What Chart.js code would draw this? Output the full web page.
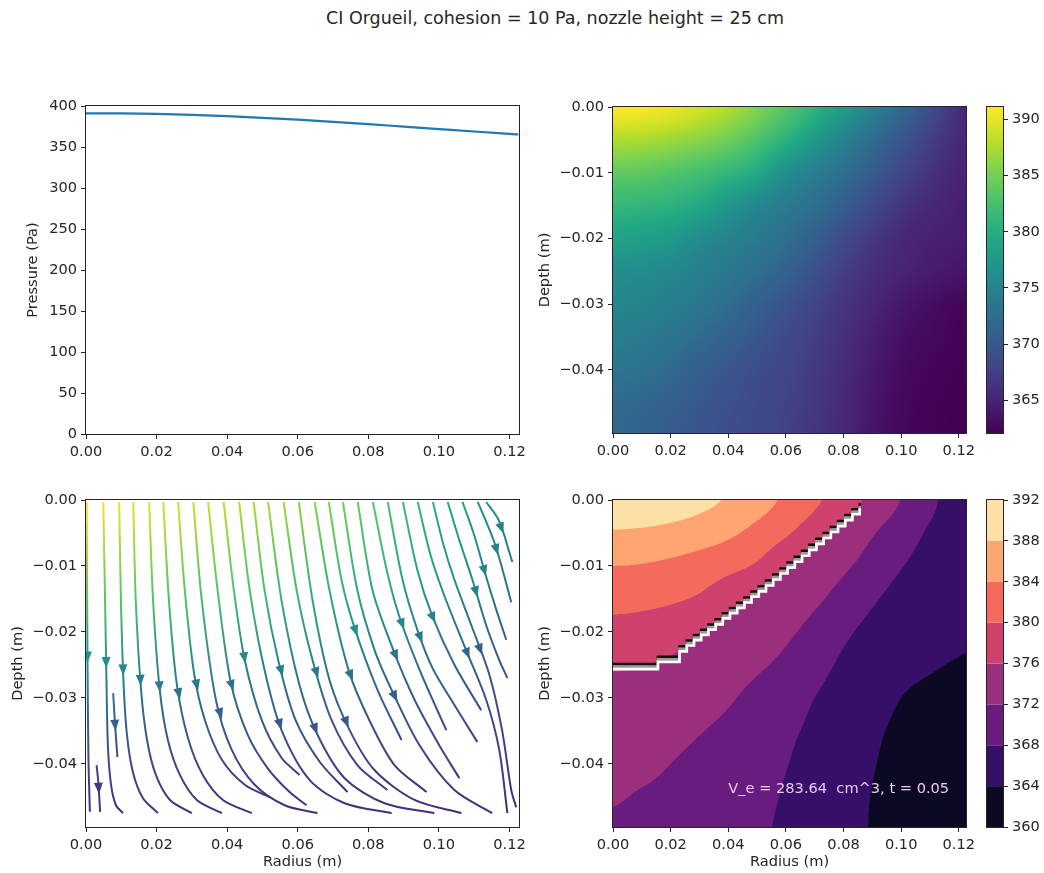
<!DOCTYPE html>
<html>
<head>
<meta charset="utf-8">
<title>CI Orgueil pressure field</title>
<script src="https://cdn.jsdelivr.net/npm/chart.js@4.4.1/dist/chart.umd.min.js"></script>
<style>
  html, body { margin: 0; padding: 0; background: #ffffff; }
  body { position: relative; width: 1044px; height: 873px; overflow: hidden; font-family: 'DejaVu Sans', sans-serif; }
  canvas { position: absolute; }
  #suptitle { position: absolute; left: 0; top: 8px; width: 1110px; text-align: center; font-size: 17.5px; line-height: 20px; color: #262626; white-space: nowrap; }
</style>
</head>
<body>
<div id="suptitle">CI Orgueil, cohesion = 10 Pa, nozzle height = 25 cm</div>
<canvas id="surfaceChart"></canvas>
<canvas id="fieldChart"></canvas>
<canvas id="fieldBar"></canvas>
<canvas id="flowChart"></canvas>
<canvas id="bandChart"></canvas>
<canvas id="bandBar"></canvas>
<script>
// ---------------- data ----------------
// grid columns (radius, m) and rows (depth, m) of the pressure field
const radii = [0, 0.01, 0.02, 0.03, 0.04, 0.05, 0.06, 0.07, 0.08, 0.09, 0.10, 0.11, 0.12, 0.1225];
const depths = [0, -0.005, -0.010, -0.015, -0.020, -0.025, -0.030, -0.035, -0.040, -0.045, -0.0496];
// pressure (Pa), one row per depth; the first row is the surface profile
const pressure = [
  [391.1, 390.9, 390.3, 389.1, 387.6, 385.6, 383.3, 380.7, 377.9, 374.9, 371.9, 368.9, 366.0, 365.3],
  [387.6, 387.4, 386.8, 385.9, 384.7, 382.8, 380.5, 377.7, 374.9, 372.3, 369.9, 367.5, 365.6, 365.2],
  [384.0, 383.8, 383.2, 382.3, 381.1, 379.5, 376.4, 374.4, 372.6, 370.5, 368.2, 366.4, 365.0, 364.8],
  [381.2, 381.0, 380.5, 379.5, 377.4, 375.4, 374.0, 372.6, 370.7, 368.5, 366.6, 365.5, 364.7, 364.6],
  [378.7, 378.4, 377.6, 376.1, 374.9, 373.8, 372.6, 370.9, 368.7, 366.9, 365.5, 364.8, 364.5, 364.4],
  [376.3, 376.1, 375.5, 374.6, 373.6, 372.5, 371.2, 369.3, 367.4, 366.0, 365.0, 364.3, 363.8, 363.7],
  [375.3, 375.0, 374.4, 373.6, 372.4, 371.0, 369.6, 368.0, 366.6, 365.3, 364.0, 363.2, 362.6, 362.5],
  [374.3, 374.0, 373.3, 372.2, 371.1, 369.9, 368.6, 367.4, 366.1, 364.6, 363.4, 362.8, 362.4, 362.3],
  [373.4, 373.0, 372.0, 370.9, 369.9, 368.9, 368.1, 367.0, 365.7, 364.2, 363.0, 362.5, 362.2, 362.2],
  [372.2, 371.7, 371.0, 370.1, 369.3, 368.6, 367.8, 366.8, 365.5, 363.9, 362.8, 362.3, 362.1, 362.1],
  [371.8, 371.3, 370.5, 369.7, 369.0, 368.4, 367.6, 366.6, 365.3, 363.8, 362.7, 362.3, 362.1, 362.1]
];
const radiusTicks = [0, 0.02, 0.04, 0.06, 0.08, 0.10, 0.12];
const depthTicks = [0, -0.01, -0.02, -0.03, -0.04];
const pressureTicks = [0, 50, 100, 150, 200, 250, 300, 350, 400];
const fieldBarTicks = [365, 370, 375, 380, 385, 390];
const bandLevels = [360, 364, 368, 372, 376, 380, 384, 388, 392];

// flow speed (relative, 0..1) used to colour the streamlines
const speedRadii = [0, 0.02, 0.04, 0.06, 0.08, 0.10, 0.12];
const speedDepths = [0, -0.01, -0.02, -0.03, -0.04, -0.05];
const speed = [
  [1.00, 0.95, 0.90, 0.84, 0.76, 0.62, 0.44],
  [0.88, 0.86, 0.82, 0.76, 0.68, 0.56, 0.40],
  [0.60, 0.58, 0.55, 0.52, 0.47, 0.40, 0.30],
  [0.38, 0.37, 0.35, 0.33, 0.30, 0.27, 0.23],
  [0.21, 0.21, 0.20, 0.19, 0.18, 0.17, 0.16],
  [0.11, 0.11, 0.11, 0.11, 0.11, 0.11, 0.11]
];

// streamlines, each a list of [radius, depth] points in flow order
const streamlines = [
  [[0.0002,-0.0003],[0.0004,-0.0228],[0.0007,-0.0394],[0.0010,-0.0455],[0.0011,-0.0473]],
  [[0.0049,-0.0003],[0.0054,-0.0152],[0.0058,-0.0273],[0.0062,-0.0372],[0.0071,-0.0432],[0.0085,-0.0463],[0.0105,-0.0475]],
  [[0.0094,-0.0003],[0.0099,-0.0152],[0.0106,-0.0273],[0.0116,-0.0356],[0.0133,-0.0413],[0.0161,-0.0452],[0.0204,-0.0475]],
  [[0.0134,-0.0003],[0.0141,-0.0152],[0.0156,-0.0288],[0.0173,-0.0364],[0.0198,-0.0417],[0.0238,-0.0455],[0.0300,-0.0475]],
  [[0.0179,-0.0003],[0.0190,-0.0152],[0.0209,-0.0288],[0.0232,-0.0364],[0.0266,-0.0417],[0.0314,-0.0455],[0.0385,-0.0475]],
  [[0.0219,-0.0003],[0.0235,-0.0152],[0.0257,-0.0278],[0.0289,-0.0361],[0.0331,-0.0417],[0.0388,-0.0455],[0.0470,-0.0475]],
  [[0.0261,-0.0003],[0.0280,-0.0137],[0.0306,-0.0262],[0.0337,-0.0334],[0.0385,-0.0394],[0.0450,-0.0432],[0.0521,-0.0451]],
  [[0.0304,-0.0003],[0.0328,-0.0152],[0.0368,-0.0303],[0.0413,-0.0379],[0.0478,-0.0432],[0.0563,-0.0463],[0.0656,-0.0475]],
  [[0.0346,-0.0003],[0.0373,-0.0137],[0.0410,-0.0276],[0.0458,-0.0356],[0.0515,-0.0407],[0.0577,-0.0443],[0.0625,-0.0463]],
  [[0.0390,-0.0003],[0.0419,-0.0137],[0.0450,-0.0243],[0.0498,-0.0334],[0.0554,-0.0391],[0.0605,-0.0417]],
  [[0.0434,-0.0003],[0.0464,-0.0137],[0.0506,-0.0258],[0.0554,-0.0349],[0.0634,-0.0425],[0.0733,-0.0460],[0.0866,-0.0475]],
  [[0.0475,-0.0003],[0.0506,-0.0137],[0.0546,-0.0246],[0.0594,-0.0334],[0.0662,-0.0397],[0.0741,-0.0443]],
  [[0.0516,-0.0003],[0.0554,-0.0152],[0.0605,-0.0281],[0.0656,-0.0356],[0.0733,-0.0422],[0.0846,-0.0460],[0.0987,-0.0475]],
  [[0.0560,-0.0003],[0.0597,-0.0137],[0.0642,-0.0243],[0.0696,-0.0334],[0.0769,-0.0402],[0.0854,-0.0440]],
  [[0.0603,-0.0003],[0.0642,-0.0152],[0.0690,-0.0273],[0.0747,-0.0349],[0.0818,-0.0410],[0.0931,-0.0455],[0.1064,-0.0475]],
  [[0.0648,-0.0003],[0.0690,-0.0137],[0.0744,-0.0258],[0.0803,-0.0334],[0.0874,-0.0402],[0.0965,-0.0443]],
  [[0.0688,-0.0003],[0.0724,-0.0121],[0.0761,-0.0194],[0.0826,-0.0288],[0.0894,-0.0364]],
  [[0.0728,-0.0003],[0.0769,-0.0137],[0.0818,-0.0228],[0.0866,-0.0288],[0.0945,-0.0372],[0.1044,-0.0440],[0.1151,-0.0475]],
  [[0.0770,-0.0003],[0.0812,-0.0137],[0.0869,-0.0225],[0.0931,-0.0303],[0.1001,-0.0372],[0.1058,-0.0422]],
  [[0.0813,-0.0003],[0.0852,-0.0106],[0.0888,-0.0177],[0.0951,-0.0265],[0.1021,-0.0349]],
  [[0.0855,-0.0003],[0.0897,-0.0121],[0.0939,-0.0197],[0.0982,-0.0255],[0.1044,-0.0311],[0.1109,-0.0367]],
  [[0.0898,-0.0003],[0.0939,-0.0106],[0.0982,-0.0177],[0.1044,-0.0250],[0.1120,-0.0319]],
  [[0.0940,-0.0003],[0.0976,-0.0083],[0.1016,-0.0146],[0.1075,-0.0225],[0.1134,-0.0303],[0.1171,-0.0379],[0.1194,-0.0475]],
  [[0.0983,-0.0003],[0.1013,-0.0068],[0.1044,-0.0121],[0.1092,-0.0190],[0.1143,-0.0265],[0.1179,-0.0349],[0.1205,-0.0440],[0.1219,-0.0466]],
  [[0.1025,-0.0003],[0.1058,-0.0061],[0.1095,-0.0121],[0.1134,-0.0190],[0.1171,-0.0243],[0.1194,-0.0270]],
  [[0.1067,-0.0003],[0.1100,-0.0053],[0.1131,-0.0111],[0.1163,-0.0167],[0.1191,-0.0212]],
  [[0.1110,-0.0003],[0.1134,-0.0033],[0.1157,-0.0064],[0.1179,-0.0103],[0.1205,-0.0155]],
  [[0.1134,-0.0003],[0.1166,-0.0027],[0.1185,-0.0053],[0.1196,-0.0073],[0.1208,-0.0094]],
  [[0.0077,-0.0293],[0.0082,-0.0338],[0.0089,-0.0390]],
  [[0.0030,-0.0402],[0.0035,-0.0429],[0.0040,-0.0473]]
];

// stepped ejecta boundary (radius, depth)
const stairRadius = [0, 0.0156, 0.0231, 0.0256, 0.0281, 0.0306, 0.0331, 0.0356, 0.0381, 0.0406, 0.0431, 0.0456, 0.0481, 0.0506,
  0.0531, 0.0556, 0.0581, 0.0606, 0.0631, 0.0656, 0.0681, 0.0706, 0.0731, 0.0756, 0.0781, 0.0806, 0.0831, 0.0856];
const stairDepth = [-0.0249, -0.0238, -0.0222, -0.0213, -0.0205, -0.0197, -0.0189, -0.0181, -0.0172, -0.0164, -0.0156, -0.0148, -0.0139, -0.0131,
  -0.0122, -0.0113, -0.0104, -0.0095, -0.0086, -0.0077, -0.0068, -0.0059, -0.0050, -0.0041, -0.0032, -0.0023, -0.0014, -0.0005];

const ejectaNote = 'V_e = 283.64  cm^3, t = 0.05';
const NOTE_AT = {r: 0.04, z: -0.0445};

// ---------------- colour maps ----------------
const VIRIDIS = ['#440154','#482475','#414487','#355f8d','#2a788e','#21918c','#22a884','#44bf70','#7ad151','#bddf26','#fde725'];
const MAGMA = ['#000004','#140e36','#3b0f70','#641a80','#8c2981','#b73779','#de4968','#f7705c','#fe9f6d','#fecf92','#fcfdbf'];
function hexRgb(h) { return [1, 3, 5].map(k => parseInt(h.slice(k, k + 2), 16)); }
function makeMap(stops) {
  const rgb = stops.map(hexRgb);
  return t => {
    t = Math.min(1, Math.max(0, t));
    const f = t * (rgb.length - 1);
    const i = Math.min(Math.floor(f), rgb.length - 2);
    const u = f - i;
    return [0, 1, 2].map(k => rgb[i][k] + (rgb[i + 1][k] - rgb[i][k]) * u);
  };
}
const viridis = makeMap(VIRIDIS);
const magma = makeMap(MAGMA);
const css = c => `rgb(${Math.round(c[0])},${Math.round(c[1])},${Math.round(c[2])})`;

// ---------------- grid sampling ----------------
function locate(vals, v) {
  const n = vals.length, asc = vals[n - 1] > vals[0];
  for (let i = 0; i < n - 1; i++) {
    const a = vals[i], b = vals[i + 1];
    if ((asc ? v <= b : v >= b) || i === n - 2) {
      return [i, Math.min(1, Math.max(0, (v - a) / (b - a)))];
    }
  }
}
function sampleGrid(xs, ys, grid, x, y) {
  const [i, tx] = locate(xs, x), [j, ty] = locate(ys, y);
  const top = grid[j][i] * (1 - tx) + grid[j][i + 1] * tx;
  const bot = grid[j + 1][i] * (1 - tx) + grid[j + 1][i + 1] * tx;
  return top * (1 - ty) + bot * ty;
}
// Catmull-Rom shading of the pressure grid (mirrored about the axis r = 0)
function cr(p0, p1, p2, p3, t) {
  return p1 + 0.5 * t * (p2 - p0 + t * (2 * p0 - 5 * p1 + 4 * p2 - p3 + t * (3 * (p1 - p2) + p3 - p0)));
}
function sampleSmooth(xs, ys, grid, x, y) {
  const [i, tx] = locate(xs, x), [j, ty] = locate(ys, y);
  const ci = k => (k < 0 ? -k : Math.min(xs.length - 1, k));
  const cj = k => Math.min(ys.length - 1, Math.max(0, k));
  const rows = [-1, 0, 1, 2].map(d => {
    const row = grid[cj(j + d)];
    return cr(row[ci(i - 1)], row[ci(i)], row[ci(i + 1)], row[ci(i + 2)], tx);
  });
  return cr(rows[0], rows[1], rows[2], rows[3], ty);
}
const pressureAt = (r, z) => sampleSmooth(radii, depths, pressure, r, z);
const speedAt = (r, z) => sampleGrid(speedRadii, speedDepths, speed, r, z);

const flat = pressure.flat();
const P_MIN = Math.min(...flat), P_MAX = Math.max(...flat);
const bandColors = bandLevels.slice(0, -1).map((lv, i) =>
  magma(((lv + bandLevels[i + 1]) / 2 - bandLevels[0]) / (bandLevels[bandLevels.length - 1] - bandLevels[0])));
function bandColor(p) {
  let k = 0;
  while (k < bandColors.length - 1 && p >= bandLevels[k + 1]) k++;
  return bandColors[k];
}

// ---------------- chart helpers ----------------
const INK = '#262626';
const FONT = {family: "'DejaVu Sans', sans-serif", size: 14.6};
Chart.defaults.font.family = FONT.family;
Chart.defaults.font.size = FONT.size;
Chart.defaults.color = INK;
Chart.defaults.animation = false;
Chart.defaults.events = [];
Chart.defaults.plugins.legend.display = false;
Chart.defaults.plugins.tooltip.enabled = false;

function place(id, box) {
  const cv = document.getElementById(id);
  cv.width = box.w; cv.height = box.h;
  cv.style.left = box.x + 'px'; cv.style.top = box.y + 'px';
  return cv;
}
const fmt2 = v => (v < 0 ? '\u2212' : '') + Math.abs(v).toFixed(2);
const fmt0 = v => String(v);

function axis(o) {
  return {
    type: 'linear', position: o.position, min: o.min, max: o.max,
    afterBuildTicks: s => { s.ticks = o.ticks.map(v => ({value: v})); },
    afterFit: s => { if (s.isHorizontal()) s.height = o.size; else s.width = o.size; },
    ticks: {callback: o.fmt, autoSkip: false, maxRotation: 0, minRotation: 0, padding: 4, color: INK, font: FONT},
    grid: {drawOnChartArea: false, drawTicks: true, tickLength: 5, color: INK, lineWidth: 1},
    border: {display: false},
    title: o.title ? {display: true, text: o.title, color: INK, font: FONT, padding: o.titlePad} : {display: false}
  };
}

const frame = {
  id: 'frame',
  afterDraw(chart) {
    const {ctx, chartArea: a} = chart;
    ctx.save();
    ctx.strokeStyle = INK; ctx.lineWidth = 1;
    ctx.strokeRect(Math.round(a.left) - 0.5, Math.round(a.top) - 0.5,
      Math.round(a.right - a.left) + 1, Math.round(a.bottom - a.top) + 1);
    ctx.restore();
  }
};

// paints the pressure field into the plot area, pixel by pixel, through the chart scales
function fieldPlugin(colorOf, ss) {
  return {
    id: 'fieldImage',
    beforeDatasetsDraw(chart) {
      const {ctx, chartArea: a, scales: {x, y}} = chart;
      const L = Math.round(a.left), T = Math.round(a.top);
      const w = Math.round(a.right) - L, h = Math.round(a.bottom) - T;
      const off = document.createElement('canvas');
      off.width = w; off.height = h;
      const octx = off.getContext('2d');
      const img = octx.createImageData(w, h);
      for (let j = 0; j < h; j++) {
        for (let i = 0; i < w; i++) {
          let R = 0, G = 0, B = 0;
          for (let sj = 0; sj < ss; sj++) {
            const z = y.getValueForPixel(T + j + (sj + 0.5) / ss);
            for (let si = 0; si < ss; si++) {
              const r = x.getValueForPixel(L + i + (si + 0.5) / ss);
              const c = colorOf(pressureAt(r, z));
              R += c[0]; G += c[1]; B += c[2];
            }
          }
          const n = ss * ss, k = (j * w + i) * 4;
          img.data[k] = R / n; img.data[k + 1] = G / n; img.data[k + 2] = B / n; img.data[k + 3] = 255;
        }
      }
      octx.putImageData(img, 0, 0);
      ctx.drawImage(off, L, T);
    }
  };
}

// ---------------- top left: surface pressure ----------------
place('surfaceChart', {x: 0, y: 90, w: 535, h: 385});
new Chart(document.getElementById('surfaceChart'), {
  type: 'scatter',
  data: {datasets: [{
    data: radii.map((r, i) => ({x: r, y: pressure[0][i]})),
    showLine: true, pointRadius: 0, borderColor: '#1f77b4', borderWidth: 2.2, cubicInterpolationMode: 'monotone'
  }]},
  options: {
    responsive: false,
    layout: {autoPadding: false, padding: {left: 0, top: 16, right: 16, bottom: 0}},
    scales: {
      x: axis({position: 'bottom', min: 0, max: 0.1227, ticks: radiusTicks, fmt: fmt2, size: 41}),
      y: axis({position: 'left', min: 0, max: 400, ticks: pressureTicks, fmt: fmt0, size: 86,
               title: 'Pressure (Pa)', titlePad: {top: 24, bottom: 0}})
    }
  },
  plugins: [frame]
});

// ---------------- top right: pressure field (viridis) ----------------
place('fieldChart', {x: 535, y: 90, w: 450, h: 385});
new Chart(document.getElementById('fieldChart'), {
  type: 'scatter',
  data: {datasets: []},
  options: {
    responsive: false,
    layout: {autoPadding: false, padding: {left: 0, top: 17, right: 19, bottom: 0}},
    scales: {
      x: axis({position: 'bottom', min: 0, max: 0.1225, ticks: radiusTicks, fmt: fmt2, size: 42}),
      y: axis({position: 'left', min: -0.0496, max: 0, ticks: depthTicks, fmt: fmt2, size: 78,
               title: 'Depth (m)', titlePad: {top: 1, bottom: 0}})
    }
  },
  plugins: [fieldPlugin(p => viridis((p - P_MIN) / (P_MAX - P_MIN)), 1), frame]
});

place('fieldBar', {x: 975, y: 90, w: 69, h: 385});
new Chart(document.getElementById('fieldBar'), {
  type: 'scatter',
  data: {datasets: []},
  options: {
    responsive: false,
    layout: {autoPadding: false, padding: {left: 12, top: 17, right: 0, bottom: 42}},
    scales: {
      x: {display: false, min: 0, max: 1},
      y: axis({position: 'right', min: P_MIN, max: P_MAX, ticks: fieldBarTicks, fmt: fmt0, size: 41})
    }
  },
  plugins: [{
    id: 'viridisBar',
    beforeDatasetsDraw(chart) {
      const {ctx, chartArea: a, scales: {y}} = chart;
      for (let py = Math.round(a.top); py < Math.round(a.bottom); py++) {
        const v = y.getValueForPixel(py + 0.5);
        ctx.fillStyle = css(viridis((v - P_MIN) / (P_MAX - P_MIN)));
        ctx.fillRect(a.left, py, a.right - a.left, 1);
      }
    }
  }, frame]
});

// ---------------- bottom left: streamlines ----------------
function streamStroke(context) {
  const chart = context.chart;
  const {ctx, chartArea, scales} = chart;
  const pts = streamlines[context.datasetIndex];
  if (!chartArea || !scales.y) return css(viridis(speedAt(pts[0][0], pts[0][1])));
  const y0 = scales.y.getPixelForValue(pts[0][1]);
  const y1 = scales.y.getPixelForValue(pts[pts.length - 1][1]);
  const g = ctx.createLinearGradient(0, y0, 0, y1);
  pts.forEach(([r, z]) => {
    const f = (scales.y.getPixelForValue(z) - y0) / (y1 - y0);
    g.addColorStop(Math.min(1, Math.max(0, f)), css(viridis(speedAt(r, z))));
  });
  return g;
}
const streamArrows = {
  id: 'streamArrows',
  afterDatasetsDraw(chart) {
    const {ctx, chartArea: a, scales: {x, y}} = chart;
    ctx.save();
    ctx.beginPath(); ctx.rect(a.left, a.top, a.right - a.left, a.bottom - a.top); ctx.clip();
    streamlines.forEach(pts => {
      const seg = [];
      let total = 0;
      for (let i = 0; i < pts.length - 1; i++) {
        const d = Math.hypot(pts[i + 1][0] - pts[i][0], pts[i + 1][1] - pts[i][1]);
        seg.push(d); total += d;
      }
      let acc = 0, k = 0;
      while (k < seg.length - 1 && acc + seg[k] < total / 2) { acc += seg[k]; k++; }
      const u = (total / 2 - acc) / seg[k];
      const r = pts[k][0] + (pts[k + 1][0] - pts[k][0]) * u;
      const z = pts[k][1] + (pts[k + 1][1] - pts[k][1]) * u;
      const px = x.getPixelForValue(r), py = y.getPixelForValue(z);
      const ang = Math.atan2(y.getPixelForValue(pts[k + 1][1]) - y.getPixelForValue(pts[k][1]),
                             x.getPixelForValue(pts[k + 1][0]) - x.getPixelForValue(pts[k][0]));
      ctx.save();
      ctx.translate(px, py); ctx.rotate(ang);
      ctx.fillStyle = css(viridis(speedAt(r, z)));
      ctx.beginPath();
      ctx.moveTo(5.5, 0); ctx.lineTo(-5.5, -4.5); ctx.lineTo(-5.5, 4.5); ctx.closePath();
      ctx.fill();
      ctx.restore();
    });
    ctx.restore();
  }
};

place('flowChart', {x: 0, y: 485, w: 535, h: 388});
new Chart(document.getElementById('flowChart'), {
  type: 'scatter',
  data: {datasets: streamlines.map(line => ({
    data: line.map(([r, z]) => ({x: r, y: z})),
    showLine: true, pointRadius: 0, borderWidth: 2, tension: 0.3,
    borderColor: streamStroke
  }))},
  options: {
    responsive: false,
    layout: {autoPadding: false, padding: {left: 0, top: 15, right: 16, bottom: 0}},
    scales: {
      x: axis({position: 'bottom', min: 0, max: 0.1227, ticks: radiusTicks, fmt: fmt2, size: 46,
               title: 'Radius (m)', titlePad: {top: 0, bottom: 2}}),
      y: axis({position: 'left', min: -0.0496, max: 0, ticks: depthTicks, fmt: fmt2, size: 86,
               title: 'Depth (m)', titlePad: {top: 9, bottom: 0}})
    }
  },
  plugins: [streamArrows, frame]
});

// ---------------- bottom right: filled pressure bands (magma) ----------------
const stairOffsets = [5, 2.5, 0];
const stairColors = ['#ffffff', '#9a9a9a', '#111111'];
const stairShift = {
  id: 'stairShift',
  beforeDatasetDraw(chart, args) { chart.ctx.save(); chart.ctx.translate(0, stairOffsets[args.index]); },
  afterDatasetDraw(chart) { chart.ctx.restore(); }
};
const ejectaLabel = {
  id: 'ejectaLabel',
  afterDatasetsDraw(chart) {
    const {ctx, scales: {x, y}} = chart;
    ctx.save();
    ctx.font = "14.6px 'DejaVu Sans', sans-serif";
    ctx.fillStyle = '#ecc8ec';
    ctx.textBaseline = 'alphabetic';
    ctx.textAlign = 'left';
    ctx.fillText(ejectaNote, x.getPixelForValue(NOTE_AT.r), y.getPixelForValue(NOTE_AT.z));
    ctx.restore();
  }
};

place('bandChart', {x: 535, y: 485, w: 450, h: 388});
new Chart(document.getElementById('bandChart'), {
  type: 'scatter',
  data: {datasets: stairColors.map(c => ({
    data: stairRadius.map((r, i) => ({x: r, y: stairDepth[i]})),
    showLine: true, stepped: true, pointRadius: 0, borderWidth: 2.6, borderColor: c
  }))},
  options: {
    responsive: false,
    layout: {autoPadding: false, padding: {left: 0, top: 15, right: 19, bottom: 0}},
    scales: {
      x: axis({position: 'bottom', min: 0, max: 0.1225, ticks: radiusTicks, fmt: fmt2, size: 46,
               title: 'Radius (m)', titlePad: {top: 0, bottom: 2}}),
      y: axis({position: 'left', min: -0.0496, max: 0, ticks: depthTicks, fmt: fmt2, size: 78,
               title: 'Depth (m)', titlePad: {top: 1, bottom: 0}})
    }
  },
  plugins: [fieldPlugin(bandColor, 2), stairShift, ejectaLabel, frame]
});

place('bandBar', {x: 975, y: 485, w: 69, h: 388});
new Chart(document.getElementById('bandBar'), {
  type: 'scatter',
  data: {datasets: []},
  options: {
    responsive: false,
    layout: {autoPadding: false, padding: {left: 12, top: 15, right: 0, bottom: 46}},
    scales: {
      x: {display: false, min: 0, max: 1},
      y: axis({position: 'right', min: bandLevels[0], max: bandLevels[bandLevels.length - 1],
               ticks: bandLevels, fmt: fmt0, size: 41})
    }
  },
  plugins: [{
    id: 'bandBarFill',
    beforeDatasetsDraw(chart) {
      const {ctx, chartArea: a, scales: {y}} = chart;
      bandColors.forEach((c, i) => {
        const y0 = y.getPixelForValue(bandLevels[i]), y1 = y.getPixelForValue(bandLevels[i + 1]);
        ctx.fillStyle = css(c);
        ctx.fillRect(a.left, y1, a.right - a.left, y0 - y1);
      });
    }
  }, frame]
});
</script>
</body>
</html>
